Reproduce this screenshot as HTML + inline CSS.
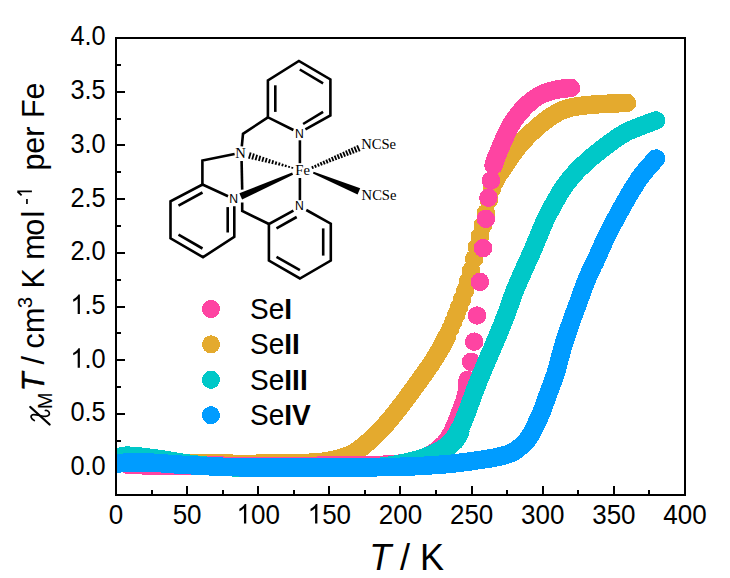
<!DOCTYPE html>
<html><head><meta charset="utf-8"><style>
html,body{margin:0;padding:0;background:#fff;width:730px;height:578px;overflow:hidden}
svg{display:block;font-family:"Liberation Sans",sans-serif}
</style></head><body><svg width="730" height="578" viewBox="0 0 730 578">
<line x1="116.0" y1="495" x2="116.0" y2="486" stroke="#000" stroke-width="2"/><line x1="152.0" y1="495" x2="152.0" y2="490" stroke="#000" stroke-width="2"/><line x1="187.0" y1="495" x2="187.0" y2="486" stroke="#000" stroke-width="2"/><line x1="223.0" y1="495" x2="223.0" y2="490" stroke="#000" stroke-width="2"/><line x1="258.0" y1="495" x2="258.0" y2="486" stroke="#000" stroke-width="2"/><line x1="294.0" y1="495" x2="294.0" y2="490" stroke="#000" stroke-width="2"/><line x1="329.0" y1="495" x2="329.0" y2="486" stroke="#000" stroke-width="2"/><line x1="365.0" y1="495" x2="365.0" y2="490" stroke="#000" stroke-width="2"/><line x1="400.0" y1="495" x2="400.0" y2="486" stroke="#000" stroke-width="2"/><line x1="436.0" y1="495" x2="436.0" y2="490" stroke="#000" stroke-width="2"/><line x1="472.0" y1="495" x2="472.0" y2="486" stroke="#000" stroke-width="2"/><line x1="507.0" y1="495" x2="507.0" y2="490" stroke="#000" stroke-width="2"/><line x1="543.0" y1="495" x2="543.0" y2="486" stroke="#000" stroke-width="2"/><line x1="578.0" y1="495" x2="578.0" y2="490" stroke="#000" stroke-width="2"/><line x1="614.0" y1="495" x2="614.0" y2="486" stroke="#000" stroke-width="2"/><line x1="649.0" y1="495" x2="649.0" y2="490" stroke="#000" stroke-width="2"/><line x1="685.0" y1="495" x2="685.0" y2="486" stroke="#000" stroke-width="2"/><line x1="116" y1="495.0" x2="121" y2="495.0" stroke="#000" stroke-width="2"/><line x1="116" y1="468.0" x2="125" y2="468.0" stroke="#000" stroke-width="2"/><line x1="116" y1="441.0" x2="121" y2="441.0" stroke="#000" stroke-width="2"/><line x1="116" y1="414.0" x2="125" y2="414.0" stroke="#000" stroke-width="2"/><line x1="116" y1="387.0" x2="121" y2="387.0" stroke="#000" stroke-width="2"/><line x1="116" y1="360.0" x2="125" y2="360.0" stroke="#000" stroke-width="2"/><line x1="116" y1="333.0" x2="121" y2="333.0" stroke="#000" stroke-width="2"/><line x1="116" y1="307.0" x2="125" y2="307.0" stroke="#000" stroke-width="2"/><line x1="116" y1="280.0" x2="121" y2="280.0" stroke="#000" stroke-width="2"/><line x1="116" y1="253.0" x2="125" y2="253.0" stroke="#000" stroke-width="2"/><line x1="116" y1="226.0" x2="121" y2="226.0" stroke="#000" stroke-width="2"/><line x1="116" y1="199.0" x2="125" y2="199.0" stroke="#000" stroke-width="2"/><line x1="116" y1="172.0" x2="121" y2="172.0" stroke="#000" stroke-width="2"/><line x1="116" y1="145.0" x2="125" y2="145.0" stroke="#000" stroke-width="2"/><line x1="116" y1="119.0" x2="121" y2="119.0" stroke="#000" stroke-width="2"/><line x1="116" y1="92.0" x2="125" y2="92.0" stroke="#000" stroke-width="2"/><line x1="116" y1="65.0" x2="121" y2="65.0" stroke="#000" stroke-width="2"/><line x1="116" y1="38.0" x2="125" y2="38.0" stroke="#000" stroke-width="2"/>
<defs><clipPath id="pc"><rect x="117" y="39" width="567" height="455"/></clipPath></defs>
<g shape-rendering="crispEdges" clip-path="url(#pc)"><polyline points="117.0,463.0 118.5,463.0 120.0,463.0 121.5,463.0 123.0,463.0 124.5,463.1 126.0,463.1 127.5,463.1 129.0,463.1 130.6,463.1 132.1,463.1 133.6,463.1 135.2,463.1 136.7,463.2 138.2,463.2 139.8,463.2 141.3,463.2 142.8,463.2 144.4,463.2 145.9,463.2 147.5,463.2 149.0,463.3 150.5,463.3 152.1,463.3 153.6,463.3 155.1,463.3 156.7,463.3 158.2,463.3 159.7,463.3 161.2,463.3 162.7,463.4 164.2,463.4 165.7,463.4 167.2,463.4 168.7,463.4 170.2,463.4 171.7,463.4 173.2,463.4 174.6,463.4 176.1,463.5 177.5,463.5 179.0,463.5 180.4,463.5 181.9,463.5 183.3,463.5 184.7,463.5 186.1,463.5 187.5,463.5 188.8,463.5 190.2,463.6 191.6,463.6 192.9,463.6 194.2,463.6 195.9,463.6 197.6,463.6 199.3,463.6 200.9,463.6 202.6,463.6 204.2,463.6 205.8,463.6 207.5,463.6 209.1,463.7 210.7,463.7 212.3,463.7 213.9,463.7 215.4,463.7 217.0,463.7 218.6,463.7 220.1,463.7 221.7,463.7 223.2,463.7 224.7,463.7 226.2,463.7 227.7,463.7 229.2,463.7 230.7,463.7 232.1,463.7 233.6,463.8 235.0,463.8 236.4,463.8 237.8,463.8 239.2,463.8 240.6,463.8 242.0,463.8 243.4,463.8 244.7,463.8 246.0,463.8 247.4,463.8 248.7,463.8 250.0,463.8 251.2,463.8 252.5,463.8 253.8,463.8 255.0,463.8 256.8,463.7 258.7,463.7 260.5,463.7 262.2,463.7 263.9,463.7 265.6,463.7 267.3,463.7 268.9,463.7 270.5,463.6 272.1,463.6 273.7,463.6 275.2,463.6 276.7,463.6 278.2,463.5 279.6,463.5 281.0,463.5 282.4,463.5 283.8,463.5 285.1,463.4 286.4,463.4 287.7,463.4 289.0,463.4 290.2,463.3 291.5,463.3 292.7,463.3 293.8,463.3 295.0,463.2 297.0,463.2 298.9,463.1 300.7,463.1 302.4,463.0 304.1,463.0 305.6,462.9 307.1,462.8 308.5,462.8 309.8,462.7 311.1,462.6 312.3,462.6 313.5,462.5 314.7,462.4 315.8,462.4 316.9,462.3 319.0,462.2 320.8,462.0 322.3,461.9 323.6,461.7 324.8,461.5 326.0,461.4 327.2,461.2 328.8,460.9 330.2,460.6 331.6,460.4 332.9,460.0 334.4,459.7 335.7,459.4 337.0,459.1 338.4,458.7 339.8,458.3 341.2,457.9 342.6,457.5 343.7,457.1 345.0,456.7 346.2,456.2 347.4,455.8 348.6,455.3 349.8,454.8 351.0,454.2 352.1,453.6 353.3,453.0 354.4,452.4 355.5,451.7 356.6,451.0 357.7,450.3 358.8,449.6 359.8,448.8 360.9,447.9 362.0,447.1 363.1,446.2 364.2,445.3 365.3,444.4 366.4,443.5 367.5,442.5 368.6,441.5 369.7,440.5 370.8,439.5 371.9,438.5 373.0,437.5 374.0,436.6 375.0,435.6 376.0,434.7 376.9,433.8 377.8,432.9 378.7,432.0 379.7,431.0 380.6,430.0 381.5,429.1 382.3,428.2 383.1,427.3 384.0,426.4 384.8,425.5 385.8,424.4 386.7,423.3 387.8,422.1 388.6,421.2 389.4,420.2 390.3,419.1 391.2,418.0 392.1,416.9 393.1,415.7 394.0,414.5 395.0,413.4 395.9,412.2 396.8,411.0 397.8,409.9 398.6,408.7 399.5,407.6 400.4,406.4 401.3,405.2 402.2,404.0 403.1,402.9 404.0,401.7 404.8,400.6 405.7,399.4 406.5,398.4 407.2,397.3 408.2,396.1 409.0,394.9 409.8,393.8 410.6,392.7 411.3,391.7 412.1,390.6 412.9,389.5 413.7,388.4 414.6,387.2 415.4,386.1 416.2,385.0 417.0,383.8 417.9,382.7 418.7,381.5 419.6,380.3 420.5,379.1 421.3,377.9 422.2,376.6 423.2,375.4 423.9,374.3 424.7,373.2 425.5,372.0 426.3,370.9 427.1,369.7 428.0,368.6 428.8,367.4 429.6,366.2 430.4,365.0 431.2,363.8 431.9,362.7 432.7,361.5 433.5,360.3 434.3,359.0 435.1,357.8 435.9,356.5 436.6,355.3 437.4,354.0 438.1,352.8 438.8,351.6 439.5,350.4 440.2,349.2 440.9,348.0 441.6,346.7 442.3,345.4 443.0,344.1 443.6,342.9 444.3,341.6 444.9,340.4 445.5,339.2 446.1,338.0 446.7,336.8 447.2,335.7" fill="none" stroke="#E4AA2E" stroke-width="18.5" stroke-linecap="round" stroke-linejoin="round"/><circle cx="450.4" cy="328.6" r="9.25" fill="#E4AA2E"/><circle cx="453.4" cy="321.6" r="9.25" fill="#E4AA2E"/><circle cx="456.3" cy="314.5" r="9.25" fill="#E4AA2E"/><circle cx="459.3" cy="306.9" r="9.25" fill="#E4AA2E"/><circle cx="462.2" cy="299.1" r="9.25" fill="#E4AA2E"/><circle cx="465.2" cy="290.5" r="9.25" fill="#E4AA2E"/><circle cx="468.2" cy="281.0" r="9.25" fill="#E4AA2E"/><circle cx="471.1" cy="270.7" r="9.25" fill="#E4AA2E"/><circle cx="474.1" cy="258.8" r="9.25" fill="#E4AA2E"/><circle cx="477.0" cy="247.2" r="9.25" fill="#E4AA2E"/><circle cx="480.0" cy="236.1" r="9.25" fill="#E4AA2E"/><circle cx="483.0" cy="225.1" r="9.25" fill="#E4AA2E"/><circle cx="485.9" cy="213.0" r="9.25" fill="#E4AA2E"/><circle cx="488.9" cy="199.8" r="9.25" fill="#E4AA2E"/><circle cx="491.8" cy="189.1" r="9.25" fill="#E4AA2E"/><circle cx="494.8" cy="182.2" r="9.25" fill="#E4AA2E"/><circle cx="497.8" cy="176.7" r="9.25" fill="#E4AA2E"/><polyline points="501.1,171.2 501.8,170.0 502.6,168.8 503.3,167.7 504.0,166.6 504.8,165.5 505.5,164.4 506.3,163.3 507.0,162.1 507.8,161.0 508.6,159.9 509.4,158.7 510.2,157.6 511.0,156.4 511.8,155.3 512.6,154.2 513.4,153.0 514.3,151.9 515.1,150.8 516.0,149.6 516.8,148.5 517.7,147.4 518.6,146.3 519.5,145.3 520.4,144.2 521.3,143.1 522.2,142.0 523.2,140.9 524.2,139.8 525.2,138.8 526.2,137.7 527.3,136.6 528.3,135.5 529.4,134.4 530.5,133.4 531.5,132.4 532.5,131.5 533.6,130.5 534.6,129.5 535.7,128.6 536.8,127.6 537.8,126.7 538.9,125.7 540.0,124.8 541.1,123.9 542.2,123.0 543.3,122.1 544.5,121.3 545.6,120.4 546.7,119.6 547.9,118.7 548.9,118.0 550.0,117.2 551.3,116.3 552.6,115.5 553.9,114.7 555.2,113.9 556.4,113.2 557.6,112.5 558.8,111.9 560.1,111.2 561.3,110.7 562.5,110.2 563.7,109.7 564.9,109.3 566.2,108.9 567.6,108.5 568.9,108.1 570.3,107.7 571.7,107.4 573.3,107.1 575.0,106.8 576.2,106.6 577.5,106.3 578.8,106.1 580.2,105.9 581.7,105.7 583.2,105.5 584.8,105.4 586.4,105.2 588.1,105.0 589.4,104.9 590.7,104.8 592.0,104.7 593.4,104.6 594.8,104.5 596.3,104.4 597.7,104.3 599.2,104.2 600.7,104.1 602.2,104.0 603.7,103.9 605.2,103.8 606.8,103.8 608.1,103.7 609.6,103.6 611.0,103.6 612.4,103.5 613.9,103.4 615.3,103.4 616.8,103.3 618.2,103.3 619.7,103.2 621.2,103.2 622.6,103.2 624.1,103.1 625.5,103.1 627.0,103.0" fill="none" stroke="#E4AA2E" stroke-width="18.5" stroke-linecap="round" stroke-linejoin="round"/><polyline points="128.5,465.0 129.9,465.0 131.3,465.1 132.7,465.1 134.1,465.1 135.4,465.1 136.8,465.2 138.2,465.2 139.7,465.2 141.3,465.2 142.9,465.3 144.6,465.3 145.9,465.3 147.2,465.3 148.5,465.3 149.8,465.3 151.2,465.3 152.5,465.3 154.0,465.3 155.4,465.3 156.9,465.4 158.4,465.4 159.9,465.4 161.5,465.4 163.1,465.4 164.7,465.4 166.3,465.4 168.0,465.4 169.3,465.4 170.6,465.4 171.9,465.4 173.2,465.4 174.5,465.4 175.8,465.4 177.1,465.4 178.5,465.4 179.8,465.5 181.2,465.5 182.6,465.5 184.1,465.5 185.5,465.5 187.0,465.5 188.6,465.5 190.1,465.5 191.7,465.5 193.3,465.5 195.0,465.5 196.7,465.5 198.5,465.5 199.8,465.6 201.0,465.6 202.3,465.6 203.7,465.6 205.0,465.6 206.4,465.6 207.8,465.6 209.2,465.6 210.6,465.6 212.0,465.7 213.5,465.7 214.9,465.7 216.4,465.7 217.9,465.7 219.4,465.7 220.9,465.7 222.5,465.7 224.0,465.8 225.5,465.8 227.1,465.8 228.7,465.8 230.2,465.8 231.8,465.8 233.4,465.8 235.0,465.8 236.6,465.8 238.2,465.9 239.8,465.9 241.4,465.9 243.0,465.9 244.4,465.9 245.8,465.9 247.2,465.9 248.6,465.9 250.1,465.9 251.6,465.9 253.0,465.9 254.5,465.9 256.0,465.9 257.5,465.9 259.0,465.9 260.5,465.9 262.1,465.9 263.6,465.9 265.1,465.9 266.7,465.9 268.2,465.9 269.7,465.9 271.3,465.9 272.8,465.9 274.3,465.9 275.9,465.9 277.4,465.9 278.9,465.9 280.4,465.9 281.9,465.9 283.4,465.9 284.9,465.9 286.4,465.9 287.9,465.9 289.3,465.9 290.8,465.9 292.2,465.9 293.6,465.9 295.0,465.9 296.6,465.9 298.1,465.9 299.7,465.9 301.2,465.9 302.8,465.8 304.3,465.8 305.8,465.8 307.3,465.8 308.8,465.8 310.3,465.8 311.8,465.8 313.3,465.8 314.8,465.8 316.3,465.8 317.8,465.7 319.2,465.7 320.7,465.7 322.1,465.7 323.5,465.7 325.0,465.7 326.4,465.7 327.8,465.7 329.2,465.7 330.6,465.6 331.9,465.6 333.3,465.6 334.7,465.6 336.0,465.6 337.4,465.6 338.7,465.6 340.0,465.5 341.6,465.5 343.2,465.5 344.8,465.5 346.4,465.5 348.0,465.5 349.5,465.5 351.1,465.5 352.6,465.4 354.1,465.4 355.6,465.4 357.1,465.4 358.6,465.4 360.0,465.4 361.5,465.4 362.9,465.3 364.3,465.3 365.7,465.3 367.1,465.3 368.4,465.3 369.8,465.2 371.1,465.2 372.4,465.2 373.7,465.1 375.0,465.1 376.2,465.0 378.0,465.0 379.7,464.9 381.3,464.9 383.0,464.8 384.6,464.7 386.1,464.6 387.7,464.5 389.2,464.5 390.7,464.4 392.1,464.3 393.5,464.2 394.9,464.1 396.2,464.0 397.6,463.9 398.8,463.7 400.1,463.6 401.3,463.5 402.5,463.4 404.3,463.1 406.1,462.9 407.7,462.6 409.3,462.3 410.7,462.0 412.1,461.7 413.4,461.4 414.7,461.1 415.9,460.8 417.1,460.4 418.2,460.1 420.0,459.6 421.5,459.1 422.9,458.6 424.2,458.1 425.4,457.5 426.5,457.0 427.7,456.4 429.0,455.8 430.2,455.1 431.3,454.4 432.4,453.7 433.4,453.1 434.4,452.4 435.6,451.5 436.7,450.6 437.7,449.7 438.8,448.8 439.9,447.9 440.9,447.0 441.9,446.1 442.9,445.2 444.0,444.2 445.0,443.0 445.8,442.0 446.6,440.9 447.5,439.8 448.3,438.6 449.2,437.4 450.0,436.0 450.8,434.6 451.4,433.5 452.0,432.3 452.7,431.0 453.3,429.7 453.9,428.4 454.5,427.1 455.0,425.8 455.6,424.5 456.1,423.2 456.7,421.9 457.2,420.6 457.7,419.2 458.2,417.9 458.7,416.7 459.1,415.4 459.5,414.2 460.0,413.0 460.5,411.6 461.1,410.2 461.6,408.9 462.1,407.6 462.6,406.3 463.1,404.9 463.6,403.6 464.0,402.3 464.5,401.1 464.9,399.8 465.3,398.4 465.7,397.1 466.0,395.7 466.3,394.3 466.6,392.8 466.8,391.4 467.0,389.9 467.1,388.5 467.3,387.1 467.3,385.7 467.4,384.2 467.4,382.8 467.5,381.4 467.5,380.0" fill="none" stroke="#FE44A2" stroke-width="18.5" stroke-linecap="round" stroke-linejoin="round"/><circle cx="467.5" cy="380.0" r="9.25" fill="#FE44A2"/><circle cx="471.1" cy="361.8" r="9.25" fill="#FE44A2"/><circle cx="474.2" cy="341.7" r="9.25" fill="#FE44A2"/><circle cx="477.1" cy="315.5" r="9.25" fill="#FE44A2"/><circle cx="479.9" cy="281.9" r="9.25" fill="#FE44A2"/><circle cx="483.0" cy="248.1" r="9.25" fill="#FE44A2"/><circle cx="485.8" cy="218.8" r="9.25" fill="#FE44A2"/><circle cx="488.4" cy="197.7" r="9.25" fill="#FE44A2"/><circle cx="491.1" cy="180.5" r="9.25" fill="#FE44A2"/><polyline points="493.6,165.5 493.9,164.3 494.2,163.2 494.6,162.0 495.1,160.6 495.5,159.5 495.9,158.4 496.4,157.1 496.9,155.8 497.5,154.4 498.1,153.0 498.6,151.8 499.1,150.6 499.6,149.4 500.2,148.1 500.7,146.7 501.3,145.4 501.9,144.0 502.5,142.7 503.0,141.5 503.5,140.3 504.0,139.0 504.6,137.7 505.2,136.5 505.7,135.2 506.3,134.0 506.9,132.8 507.4,131.6 508.1,130.3 508.7,129.0 509.4,127.8 510.0,126.6 510.7,125.4 511.4,124.2 512.1,123.0 512.8,121.9 513.5,120.7 514.3,119.6 515.1,118.5 515.9,117.4 516.7,116.4 517.5,115.3 518.3,114.3 519.1,113.2 520.0,112.2 520.9,111.2 521.8,110.2 522.8,109.2 523.7,108.2 524.6,107.2 525.6,106.3 526.5,105.4 527.5,104.4 528.6,103.4 529.6,102.5 530.7,101.6 531.7,100.8 532.8,99.9 533.8,99.2 535.0,98.3 536.1,97.6 537.2,96.9 538.3,96.2 539.4,95.6 540.6,95.0 541.9,94.4 543.2,93.8 544.6,93.2 546.0,92.7 547.5,92.2 549.0,91.7 550.2,91.3 551.5,91.0 552.8,90.6 554.2,90.3 555.6,89.9 557.0,89.6 558.4,89.4 559.8,89.1 561.1,88.9 562.5,88.7 563.9,88.6 565.3,88.5 566.8,88.4 568.2,88.2 569.6,88.1 571.0,88.0" fill="none" stroke="#FE44A2" stroke-width="18.5" stroke-linecap="round" stroke-linejoin="round"/><polyline points="118.5,457.5 119.4,457.1 120.3,456.8 121.4,456.4 122.4,456.2 123.6,456.0 124.9,455.8 126.4,455.7 127.6,455.7 129.0,455.7 130.4,455.8 132.0,455.8 133.5,455.9 134.8,456.0 136.2,456.2 137.6,456.3 139.0,456.5 140.5,456.7 142.0,456.8 143.3,457.0 144.6,457.1 146.0,457.3 147.4,457.4 148.7,457.6 150.1,457.8 151.5,457.9 152.9,458.1 154.3,458.3 155.7,458.5 157.1,458.7 158.5,458.9 159.9,459.1 161.2,459.2 162.6,459.5 163.9,459.7 165.2,459.9 166.5,460.1 167.8,460.3 169.1,460.5 170.5,460.8 171.9,461.0 173.2,461.2 174.5,461.4 175.9,461.7 177.3,461.9 178.8,462.2 180.5,462.4 181.7,462.6 183.0,462.8 184.3,463.0 185.6,463.2 187.0,463.4 188.4,463.6 189.9,463.8 191.4,464.0 193.0,464.2 194.8,464.4 196.0,464.6 197.3,464.7 198.5,464.9 199.8,465.0 201.2,465.2 202.5,465.4 203.9,465.5 205.4,465.7 206.9,465.8 208.5,466.0 210.1,466.1 211.8,466.2 213.6,466.4 215.5,466.5 216.7,466.5 217.9,466.6 219.1,466.7 220.3,466.8 221.6,466.8 222.8,466.9 224.1,466.9 225.4,467.0 226.8,467.1 228.1,467.1 229.5,467.2 230.9,467.2 232.4,467.3 233.9,467.4 235.4,467.4 236.9,467.5 238.5,467.5 240.1,467.5 241.7,467.6 243.4,467.6 245.2,467.7 246.9,467.7 248.8,467.8 250.0,467.8 251.2,467.8 252.5,467.8 253.8,467.8 255.1,467.9 256.5,467.9 257.9,467.9 259.3,467.9 260.7,467.9 262.1,467.9 263.6,467.9 265.0,468.0 266.5,468.0 268.0,468.0 269.5,468.0 271.0,468.0 272.6,468.0 274.1,468.0 275.6,468.0 277.2,468.0 278.7,468.0 280.3,468.1 281.8,468.1 283.4,468.1 284.9,468.1 286.5,468.1 288.0,468.1 289.5,468.1 291.1,468.1 292.6,468.1 294.1,468.1 295.6,468.1 297.1,468.1 298.5,468.1 300.0,468.1 301.5,468.1 303.0,468.1 304.5,468.1 306.1,468.1 307.6,468.1 309.2,468.1 310.7,468.1 312.3,468.1 313.9,468.1 315.4,468.1 317.0,468.1 318.6,468.1 320.1,468.1 321.7,468.1 323.3,468.1 324.8,468.1 326.4,468.1 327.9,468.1 329.4,468.0 331.0,468.0 332.5,468.0 333.9,468.0 335.4,468.0 336.9,468.0 338.3,468.0 339.7,468.0 341.1,468.0 342.4,467.9 343.8,467.9 345.1,467.9 346.4,467.9 347.6,467.9 348.8,467.9 350.0,467.9 351.9,467.8 353.8,467.8 355.6,467.7 357.4,467.7 359.0,467.7 360.6,467.6 362.2,467.6 363.7,467.6 365.2,467.5 366.6,467.5 368.0,467.4 369.3,467.4 370.6,467.3 371.9,467.2 373.2,467.2 374.4,467.1 375.6,467.0 376.9,467.0 378.1,466.9 379.2,466.8 381.0,466.7 382.7,466.5 384.2,466.4 385.7,466.2 387.1,466.0 388.5,465.8 389.8,465.6 391.1,465.4 392.4,465.2 393.7,465.0 395.0,464.8 396.3,464.5 397.8,464.3 399.2,464.0 400.6,463.7 402.1,463.4 403.6,463.1 405.0,462.8 406.5,462.5 408.0,462.1 409.4,461.8 410.9,461.4 412.3,461.1 413.7,460.7 415.1,460.3 416.5,459.9 418.0,459.5 419.5,459.0 420.9,458.5 422.4,458.1 423.8,457.6 425.3,457.1 426.7,456.6 428.1,456.0 429.4,455.5 430.7,455.0 432.0,454.5 433.2,453.9 434.7,453.2 436.2,452.5 437.6,451.7 438.9,451.0 440.2,450.2 441.5,449.4 442.6,448.7 443.8,447.9 444.8,447.2 446.1,446.2 447.3,445.3 448.3,444.4 449.3,443.4 450.2,442.5 451.1,441.6 451.9,440.8 453.0,439.6 453.8,438.4 454.6,437.3 455.3,436.2 456.0,435.1 456.8,433.8 457.6,432.6 458.3,431.3 459.0,430.0 459.6,429.0 460.1,427.9 460.7,426.9 461.3,425.7 461.9,424.5 462.4,423.4 462.9,422.2 463.4,421.0 463.9,419.8 464.5,418.4 465.0,417.0 465.5,415.9 465.9,414.7 466.4,413.4 466.9,412.2 467.4,410.8 467.9,409.5 468.4,408.1 468.9,406.8 469.4,405.5 469.8,404.2 470.3,402.9 470.8,401.6 471.3,400.2 471.8,398.9 472.3,397.5 472.8,396.1 473.3,394.8 473.8,393.4 474.3,392.0 474.8,390.6 475.4,389.2 475.9,387.8 476.4,386.4 477.0,385.0 477.5,383.6 478.0,382.2 478.6,380.9 479.1,379.6 479.6,378.3 480.2,377.0 480.7,375.7 481.2,374.4 481.8,373.1 482.3,371.8 482.9,370.5 483.4,369.2 483.9,368.0 484.4,366.8 485.0,365.5 485.5,364.3 486.0,363.1 486.6,361.8 487.1,360.5 487.7,359.1 488.3,357.9 488.8,356.6 489.4,355.3 489.9,354.0 490.5,352.7 491.1,351.3 491.7,349.9 492.3,348.5 492.9,347.0 493.5,345.6 494.0,344.4 494.5,343.1 495.1,341.9 495.6,340.6 496.2,339.3 496.7,338.0 497.3,336.7 497.9,335.3 498.4,334.0 499.0,332.6 499.5,331.3 500.0,330.0 500.6,328.7 501.1,327.3 501.7,325.9 502.3,324.5 502.8,323.1 503.4,321.6 504.0,320.2 504.5,318.8 505.1,317.5 505.6,316.1 506.1,314.8 506.6,313.5 507.0,312.3 507.6,310.7 508.1,309.2 508.6,307.8 509.1,306.4 509.6,305.1 510.0,303.8 510.5,302.5 510.9,301.2 511.3,300.0 511.8,298.6 512.3,297.3 512.7,296.1 513.2,294.9 513.6,293.7 514.1,292.5 514.6,291.3 515.0,290.0 515.6,288.7 516.1,287.4 516.6,286.1 517.2,284.8 517.8,283.5 518.3,282.2 518.9,280.9 519.5,279.5 520.1,278.3 520.6,277.1 521.1,275.8 521.7,274.6 522.3,273.3 522.8,272.1 523.4,270.8 524.0,269.5 524.6,268.1 525.1,266.9 525.7,265.7 526.3,264.4 526.9,263.1 527.4,261.8 528.0,260.5 528.6,259.2 529.2,257.9 529.8,256.6 530.4,255.2 531.0,253.9 531.6,252.5 532.2,251.2 532.8,249.8 533.4,248.4 534.0,247.0 534.6,245.6 535.1,244.2 535.7,242.9 536.2,241.6 536.8,240.2 537.4,238.9 537.9,237.5 538.5,236.2 539.0,234.9 539.5,233.7 540.0,232.4 540.5,231.2 541.0,230.0 541.6,228.7 542.1,227.4 542.6,226.1 543.2,224.9 543.7,223.7 544.2,222.5 544.8,221.2 545.4,220.0 545.9,218.8 546.6,217.5 547.2,216.3 547.8,215.0 548.5,213.8 549.1,212.5 549.8,211.3 550.5,210.0 551.1,208.9 551.7,207.7 552.3,206.6 552.9,205.4 553.5,204.3 554.2,203.1 554.8,201.9 555.5,200.6 556.3,199.4 557.0,198.2 557.6,197.0 558.3,195.8 559.0,194.6 559.8,193.3 560.5,192.1 561.3,190.8 562.2,189.5 563.1,188.1 564.0,186.8 564.8,185.7 565.6,184.6 566.4,183.5 567.3,182.3 568.2,181.2 569.1,180.0 570.0,178.8 571.0,177.7 572.0,176.5 573.0,175.3 574.0,174.1 575.1,173.0 576.1,171.8 577.1,170.8 578.1,169.8 579.1,168.8 580.1,167.8 581.2,166.8 582.2,165.7 583.3,164.7 584.4,163.7 585.5,162.7 586.6,161.7 587.7,160.7 588.8,159.7 589.9,158.8 590.9,157.9 592.0,156.9 593.1,156.0 594.3,155.0 595.4,154.1 596.6,153.2 597.7,152.3 598.9,151.4 600.0,150.5 601.1,149.6 602.2,148.8 603.3,147.9 604.4,147.1 605.5,146.3 606.5,145.6 607.5,144.8 608.8,143.8 610.2,142.8 611.4,141.9 612.7,141.0 613.9,140.1 615.0,139.3 616.2,138.5 617.3,137.7 618.4,137.0 619.4,136.2 620.7,135.4 621.9,134.7 623.1,134.0 624.3,133.3 625.4,132.7 626.5,132.1 627.6,131.6 628.7,131.0 629.9,130.4 631.2,129.9 632.4,129.4 633.6,128.9 634.8,128.4 636.1,127.9 637.3,127.5 638.6,127.0 639.9,126.5 641.1,126.0 642.4,125.5 643.7,125.0 645.0,124.5 646.3,124.0 647.7,123.5 649.0,123.0 650.4,122.5 651.8,122.0 653.2,121.5 654.6,121.0 656.0,120.5" fill="none" stroke="#00C8C8" stroke-width="18.5" stroke-linecap="round" stroke-linejoin="round"/><polyline points="438.5,454.6 448.2,447.3 455.4,440.6 458.9,435.0 460.3,431.5" fill="none" stroke="#00C8C8" stroke-width="18.5" stroke-linecap="round" stroke-linejoin="round"/><polyline points="118.5,463.6 119.4,463.4 120.3,463.2 121.6,463.0 122.7,462.9 123.8,462.7 125.1,462.6 126.6,462.5 128.2,462.4 129.4,462.4 130.6,462.4 131.9,462.3 133.3,462.3 134.7,462.3 136.2,462.3 137.6,462.3 139.0,462.3 140.4,462.3 141.8,462.3 143.3,462.4 144.8,462.4 146.2,462.4 147.7,462.5 149.1,462.5 150.5,462.6 151.9,462.7 153.2,462.7 154.6,462.8 155.9,462.9 157.2,463.0 158.5,463.1 159.7,463.1 161.0,463.2 162.4,463.3 163.8,463.4 165.1,463.5 166.4,463.7 167.8,463.8 169.1,463.9 170.5,464.0 171.9,464.1 173.2,464.2 174.5,464.3 175.9,464.4 177.3,464.5 178.8,464.6 180.5,464.7 181.7,464.8 183.0,464.9 184.3,464.9 185.6,465.0 187.0,465.1 188.4,465.2 189.9,465.2 191.4,465.3 193.0,465.4 194.8,465.5 196.0,465.6 197.3,465.6 198.5,465.7 199.8,465.8 201.2,465.9 202.5,465.9 203.9,466.0 205.4,466.1 206.9,466.2 208.5,466.2 210.1,466.3 211.8,466.4 213.6,466.5 215.5,466.5 216.7,466.6 217.9,466.6 219.1,466.7 220.3,466.7 221.6,466.7 222.8,466.8 224.1,466.8 225.4,466.9 226.8,466.9 228.1,466.9 229.5,467.0 230.9,467.0 232.4,467.1 233.9,467.1 235.4,467.1 236.9,467.2 238.5,467.2 240.1,467.3 241.7,467.3 243.4,467.3 245.2,467.3 246.9,467.4 248.8,467.4 250.0,467.4 251.2,467.4 252.5,467.4 253.8,467.5 255.1,467.5 256.4,467.5 257.7,467.5 259.1,467.5 260.5,467.5 261.9,467.5 263.3,467.6 264.7,467.6 266.2,467.6 267.6,467.6 269.1,467.6 270.6,467.6 272.1,467.6 273.6,467.6 275.1,467.6 276.6,467.6 278.1,467.6 279.7,467.7 281.2,467.7 282.8,467.7 284.3,467.7 285.9,467.7 287.4,467.7 289.0,467.7 290.6,467.7 292.2,467.7 293.7,467.7 295.3,467.7 296.9,467.7 298.4,467.7 300.0,467.7 301.4,467.7 302.8,467.7 304.3,467.7 305.7,467.7 307.2,467.7 308.7,467.7 310.1,467.7 311.6,467.7 313.1,467.7 314.6,467.7 316.1,467.7 317.7,467.7 319.2,467.7 320.7,467.7 322.2,467.7 323.8,467.7 325.3,467.7 326.9,467.7 328.4,467.7 329.9,467.7 331.5,467.7 333.0,467.7 334.6,467.7 336.1,467.7 337.6,467.7 339.1,467.6 340.7,467.6 342.2,467.6 343.7,467.6 345.2,467.6 346.7,467.6 348.2,467.6 349.6,467.6 351.1,467.6 352.6,467.6 354.0,467.5 355.4,467.5 356.8,467.5 358.2,467.5 359.8,467.5 361.4,467.5 363.0,467.4 364.6,467.4 366.2,467.4 367.8,467.4 369.4,467.4 371.0,467.3 372.5,467.3 374.1,467.3 375.7,467.3 377.2,467.2 378.8,467.2 380.3,467.2 381.8,467.2 383.3,467.1 384.9,467.1 386.4,467.1 387.9,467.1 389.3,467.0 390.8,467.0 392.3,467.0 393.7,466.9 395.2,466.9 396.6,466.9 398.0,466.8 399.4,466.8 400.8,466.7 402.1,466.7 403.5,466.7 404.8,466.6 406.2,466.6 407.5,466.5 408.8,466.5 410.5,466.4 412.2,466.3 413.9,466.3 415.5,466.2 417.2,466.1 418.8,466.0 420.4,466.0 422.0,465.9 423.5,465.8 425.1,465.7 426.6,465.6 428.0,465.5 429.5,465.4 430.9,465.3 432.4,465.2 433.8,465.1 435.1,465.0 436.5,464.9 437.8,464.8 439.1,464.8 440.4,464.7 441.6,464.6 442.9,464.5 444.1,464.4 445.2,464.3 447.2,464.1 449.0,464.0 450.7,463.8 452.4,463.6 454.0,463.4 455.5,463.3 457.0,463.1 458.4,462.9 459.8,462.7 461.1,462.6 462.4,462.4 463.7,462.2 464.9,462.1 466.1,461.9 467.2,461.8 469.1,461.5 470.7,461.3 472.3,461.1 473.7,460.9 475.0,460.7 476.2,460.5 477.5,460.3 478.7,460.2 479.9,460.0 481.4,459.8 482.9,459.5 484.3,459.3 485.6,459.1 486.9,458.9 488.2,458.7 489.6,458.5 491.0,458.3 492.4,458.0 493.8,457.7 495.2,457.5 496.5,457.2 497.9,456.9 499.2,456.6 500.7,456.2 502.2,455.8 503.7,455.5 505.1,455.1 506.4,454.7 507.7,454.2 509.1,453.7 510.4,453.2 511.7,452.7 512.8,452.1 514.0,451.5 515.0,450.8 516.0,450.1 517.0,449.4 517.9,448.7 518.9,447.9 520.0,447.0 521.2,446.0 522.3,445.0 523.4,444.0 524.4,443.0 525.4,441.9 526.4,440.8 527.4,439.6 528.1,438.6 528.8,437.6 529.5,436.6 530.2,435.5 530.9,434.4 531.5,433.2 532.2,432.1 532.8,430.9 533.4,429.7 534.0,428.5 534.6,427.3 535.2,426.0 535.8,424.7 536.4,423.4 537.0,422.1 537.6,420.8 538.2,419.6 538.8,418.3 539.4,417.0 540.0,415.6 540.6,414.3 541.1,413.0 541.7,411.7 542.3,410.3 542.9,408.8 543.3,407.6 543.7,406.4 544.2,405.2 544.6,403.9 545.0,402.6 545.5,401.3 546.0,400.0 546.4,398.8 546.8,397.6 547.3,396.3 547.7,395.1 548.2,393.8 548.7,392.5 549.1,391.3 549.6,390.0 550.1,388.8 550.6,387.5 551.0,386.3 551.5,385.1 552.0,383.8 552.5,382.6 553.0,381.3 553.4,380.0 553.9,378.7 554.3,377.4 554.7,376.1 555.2,374.8 555.6,373.4 556.0,372.1 556.5,370.6 556.9,369.1 557.2,367.9 557.6,366.6 557.9,365.3 558.3,364.0 558.6,362.7 559.0,361.3 559.3,359.9 559.7,358.5 560.1,357.0 560.5,355.6 560.8,354.3 561.2,353.0 561.6,351.7 561.9,350.3 562.3,349.0 562.7,347.6 563.1,346.2 563.5,344.8 563.9,343.4 564.4,342.0 564.8,340.6 565.2,339.2 565.7,337.9 566.1,336.6 566.5,335.3 567.0,333.9 567.4,332.6 567.9,331.3 568.4,329.9 568.8,328.6 569.3,327.3 569.8,325.9 570.3,324.6 570.7,323.2 571.2,321.9 571.7,320.6 572.2,319.2 572.6,317.9 573.1,316.6 573.6,315.2 574.1,313.9 574.6,312.6 575.1,311.3 575.6,309.9 576.0,308.6 576.5,307.3 577.0,305.9 577.5,304.6 578.0,303.3 578.5,301.9 578.9,300.6 579.4,299.2 579.9,297.9 580.4,296.5 580.9,295.1 581.3,293.8 581.8,292.5 582.3,291.1 582.8,289.8 583.3,288.6 583.8,287.3 584.3,285.8 584.9,284.4 585.5,282.9 586.0,281.5 586.6,280.0 587.2,278.6 587.8,277.3 588.3,275.9 588.9,274.6 589.5,273.3 590.0,272.1 590.7,270.7 591.3,269.3 592.0,268.0 592.6,266.7 593.2,265.4 593.8,264.2 594.5,263.0 595.1,261.8 595.6,260.6 596.2,259.3 596.8,258.1 597.3,256.9 597.9,255.7 598.4,254.5 598.9,253.3 599.5,252.0 600.0,250.8 600.6,249.5 601.2,248.2 601.8,246.9 602.4,245.5 603.0,244.1 603.6,242.7 604.2,241.3 604.8,240.0 605.5,238.6 606.1,237.2 606.7,236.0 607.3,234.7 608.0,233.5 608.6,232.3 609.2,231.0 609.8,229.8 610.5,228.6 611.1,227.3 611.8,226.1 612.4,224.9 613.1,223.6 613.7,222.4 614.4,221.2 615.0,219.9 615.7,218.7 616.4,217.4 617.0,216.2 617.7,215.0 618.4,213.8 619.0,212.6 619.7,211.3 620.4,210.1 621.0,208.9 621.7,207.7 622.4,206.5 623.0,205.3 623.7,204.1 624.4,202.9 625.0,201.8 625.7,200.7 626.4,199.4 627.1,198.2 627.8,197.0 628.5,195.8 629.2,194.6 629.8,193.5 630.5,192.3 631.2,191.1 631.9,190.0 632.7,188.7 633.5,187.4 634.3,186.2 635.1,184.9 635.9,183.6 636.7,182.4 637.5,181.2 638.3,180.0 639.1,178.8 640.0,177.6 640.8,176.5 641.7,175.3 642.5,174.2 643.3,173.1 644.2,172.1 645.0,171.1 645.9,170.0 646.8,168.9 647.7,167.9 648.6,167.0 649.4,166.0 650.2,165.1 651.0,164.2 651.9,163.2 652.8,162.2 653.6,161.3 654.4,160.4 655.2,159.4 656.0,158.5" fill="none" stroke="#009CFF" stroke-width="18.5" stroke-linecap="round" stroke-linejoin="round"/></g>
<rect x="116" y="38" width="569" height="457" fill="none" stroke="#000" stroke-width="2"/>
<g font-family="Liberation Sans" font-size="26" fill="#000"><g transform="translate(116.00,523.50) scale(1,1.045)"><text x="-7.23" y="0">0</text></g><g transform="translate(187.12,523.50) scale(1,1.045)"><text x="-14.46" y="0">5</text><text x="0.00" y="0">0</text></g><g transform="translate(258.25,523.50) scale(1,1.045)"><path d="M763 0L583 0L583 1147Q518 1085 412 1023Q306 961 222 930L222 1104Q373 1175 486 1276Q599 1377 646 1466L763 1466Z" transform="translate(-21.69,0) scale(0.01270,-0.01270)"/><text x="-7.23" y="0">0</text><text x="7.23" y="0">0</text></g><g transform="translate(329.38,523.50) scale(1,1.045)"><path d="M763 0L583 0L583 1147Q518 1085 412 1023Q306 961 222 930L222 1104Q373 1175 486 1276Q599 1377 646 1466L763 1466Z" transform="translate(-21.69,0) scale(0.01270,-0.01270)"/><text x="-7.23" y="0">5</text><text x="7.23" y="0">0</text></g><g transform="translate(400.50,523.50) scale(1,1.045)"><text x="-21.69" y="0">2</text><text x="-7.23" y="0">0</text><text x="7.23" y="0">0</text></g><g transform="translate(471.62,523.50) scale(1,1.045)"><text x="-21.69" y="0">2</text><text x="-7.23" y="0">5</text><text x="7.23" y="0">0</text></g><g transform="translate(542.75,523.50) scale(1,1.045)"><text x="-21.69" y="0">3</text><text x="-7.23" y="0">0</text><text x="7.23" y="0">0</text></g><g transform="translate(613.88,523.50) scale(1,1.045)"><text x="-21.69" y="0">3</text><text x="-7.23" y="0">5</text><text x="7.23" y="0">0</text></g><g transform="translate(685.00,523.50) scale(1,1.045)"><text x="-21.69" y="0">4</text><text x="-7.23" y="0">0</text><text x="7.23" y="0">0</text></g><g transform="translate(105.70,475.12) scale(0.975,1.045)"><text x="-36.15" y="0">0</text><text x="-21.69" y="0">.</text><text x="-14.46" y="0">0</text></g><g transform="translate(105.70,421.40) scale(0.975,1.045)"><text x="-36.15" y="0">0</text><text x="-21.69" y="0">.</text><text x="-14.46" y="0">5</text></g><g transform="translate(105.70,367.69) scale(0.975,1.045)"><path d="M763 0L583 0L583 1147Q518 1085 412 1023Q306 961 222 930L222 1104Q373 1175 486 1276Q599 1377 646 1466L763 1466Z" transform="translate(-36.15,0) scale(0.01270,-0.01270)"/><text x="-21.69" y="0">.</text><text x="-14.46" y="0">0</text></g><g transform="translate(105.70,313.98) scale(0.975,1.045)"><path d="M763 0L583 0L583 1147Q518 1085 412 1023Q306 961 222 930L222 1104Q373 1175 486 1276Q599 1377 646 1466L763 1466Z" transform="translate(-36.15,0) scale(0.01270,-0.01270)"/><text x="-21.69" y="0">.</text><text x="-14.46" y="0">5</text></g><g transform="translate(105.70,260.26) scale(0.975,1.045)"><text x="-36.15" y="0">2</text><text x="-21.69" y="0">.</text><text x="-14.46" y="0">0</text></g><g transform="translate(105.70,206.54) scale(0.975,1.045)"><text x="-36.15" y="0">2</text><text x="-21.69" y="0">.</text><text x="-14.46" y="0">5</text></g><g transform="translate(105.70,152.83) scale(0.975,1.045)"><text x="-36.15" y="0">3</text><text x="-21.69" y="0">.</text><text x="-14.46" y="0">0</text></g><g transform="translate(105.70,99.12) scale(0.975,1.045)"><text x="-36.15" y="0">3</text><text x="-21.69" y="0">.</text><text x="-14.46" y="0">5</text></g><g transform="translate(105.70,45.40) scale(0.975,1.045)"><text x="-36.15" y="0">4</text><text x="-21.69" y="0">.</text><text x="-14.46" y="0">0</text></g></g>
<g font-family="Liberation Sans" fill="#000"><circle cx="211" cy="309.0" r="9" fill="#FE44A2" shape-rendering="crispEdges"/><text transform="translate(250.1,318.9) scale(1,1.03)" font-size="28">Se<tspan font-weight="bold">I</tspan></text><circle cx="211" cy="344.4" r="9" fill="#E4AA2E" shape-rendering="crispEdges"/><text transform="translate(250.1,354.3) scale(1,1.03)" font-size="28">Se<tspan font-weight="bold">II</tspan></text><circle cx="211" cy="379.8" r="9" fill="#00C8C8" shape-rendering="crispEdges"/><text transform="translate(250.1,389.7) scale(1,1.03)" font-size="28">Se<tspan font-weight="bold">III</tspan></text><circle cx="211" cy="415.2" r="9" fill="#009CFF" shape-rendering="crispEdges"/><text transform="translate(250.1,425.1) scale(1,1.03)" font-size="28">Se<tspan font-weight="bold">IV</tspan></text></g>
<g stroke="#000" stroke-width="2.6" stroke-linecap="butt" stroke-linejoin="miter"><polyline points="293.4,130 267.9,117.3 267.9,80.4 298.9,61 330.4,79.4 330.4,115.5 305.4,129.3" fill="none"/><line x1="299.8" y1="69.5" x2="323.1" y2="83.4"/><line x1="275.3" y1="85.3" x2="275.3" y2="111.9"/><line x1="303.1" y1="124" x2="323.1" y2="111.9"/><polyline points="267.9,117.3 243,133.8 241.8,146.4" fill="none"/><line x1="299.9" y1="140.3" x2="299.9" y2="163.2"/><line x1="299.9" y1="178" x2="299.9" y2="200.2"/><polyline points="234.6,154.1 202.4,160.6 202.4,184.8" fill="none"/><line x1="241.6" y1="161" x2="242.2" y2="189.6"/><polyline points="242.2,202.5 242.2,211 268.9,224" fill="none"/><polyline points="228,196.2 202.5,184.5 170.5,201.3 170.5,238.3 203,257.2 234.3,236.9 234.3,206.3" fill="none"/><line x1="178.5" y1="205.6" x2="202.5" y2="192.5"/><line x1="227.7" y1="207.1" x2="227.7" y2="232.5"/><line x1="178.5" y1="234.7" x2="202.5" y2="248.5"/><polyline points="293.4,210.6 268.9,224 268.9,260.6 299.9,278.5 330.8,260.6 330.8,223.7 306.3,210" fill="none"/><line x1="276.5" y1="228.4" x2="296.7" y2="217"/><line x1="323.2" y1="228.4" x2="323.2" y2="255.6"/><line x1="276.5" y1="256.8" x2="299.9" y2="270.1"/><line x1="250.7" y1="152.5" x2="248.9" y2="158.7" stroke-width="1.8"/><line x1="253.9" y1="153.6" x2="252.2" y2="159.5" stroke-width="1.8"/><line x1="257.1" y1="154.7" x2="255.5" y2="160.2" stroke-width="1.8"/><line x1="260.3" y1="155.8" x2="258.9" y2="161.0" stroke-width="1.8"/><line x1="263.6" y1="157.0" x2="262.2" y2="161.8" stroke-width="1.8"/><line x1="266.8" y1="158.1" x2="265.5" y2="162.5" stroke-width="1.8"/><line x1="270.0" y1="159.2" x2="268.8" y2="163.3" stroke-width="1.8"/><line x1="273.2" y1="160.3" x2="272.2" y2="164.0" stroke-width="1.8"/><line x1="276.4" y1="161.4" x2="275.5" y2="164.8" stroke-width="1.8"/><line x1="279.7" y1="162.6" x2="278.8" y2="165.5" stroke-width="1.8"/><line x1="282.9" y1="163.7" x2="282.1" y2="166.3" stroke-width="1.8"/><line x1="286.1" y1="164.8" x2="285.4" y2="167.1" stroke-width="1.8"/><line x1="289.3" y1="165.9" x2="288.8" y2="167.8" stroke-width="1.8"/><line x1="292.5" y1="167.0" x2="292.1" y2="168.6" stroke-width="1.8"/><polygon points="239.4,193.3 242.1,199.4 293.1,174.8 292.1,172.6" fill="#000" stroke="none"/><line x1="312.1" y1="166.1" x2="313.1" y2="168.7" stroke-width="1.8"/><line x1="314.9" y1="164.8" x2="316.0" y2="167.6" stroke-width="1.8"/><line x1="317.7" y1="163.5" x2="319.0" y2="166.5" stroke-width="1.8"/><line x1="320.5" y1="162.2" x2="321.9" y2="165.4" stroke-width="1.8"/><line x1="323.3" y1="160.9" x2="324.8" y2="164.3" stroke-width="1.8"/><line x1="326.2" y1="159.6" x2="327.7" y2="163.3" stroke-width="1.8"/><line x1="329.0" y1="158.3" x2="330.6" y2="162.2" stroke-width="1.8"/><line x1="331.8" y1="157.0" x2="333.5" y2="161.1" stroke-width="1.8"/><line x1="334.6" y1="155.7" x2="336.4" y2="160.0" stroke-width="1.8"/><line x1="337.4" y1="154.4" x2="339.3" y2="158.9" stroke-width="1.8"/><line x1="340.2" y1="153.1" x2="342.2" y2="157.8" stroke-width="1.8"/><line x1="343.1" y1="151.8" x2="345.1" y2="156.7" stroke-width="1.8"/><line x1="345.9" y1="150.5" x2="348.0" y2="155.6" stroke-width="1.8"/><line x1="348.7" y1="149.2" x2="350.9" y2="154.6" stroke-width="1.8"/><line x1="351.5" y1="147.9" x2="353.8" y2="153.5" stroke-width="1.8"/><line x1="354.3" y1="146.6" x2="356.7" y2="152.4" stroke-width="1.8"/><line x1="357.1" y1="145.3" x2="359.7" y2="151.3" stroke-width="1.8"/><polygon points="313.7,171.8 312.9,173.6 357.6,194.5 360.2,188.3" fill="#000" stroke="none"/></g>
<g font-family="Liberation Serif" font-size="14.6" fill="#000"><text x="240.6" y="157.6" text-anchor="middle">N</text><text x="302.6" y="174.8" text-anchor="middle">Fe</text><text x="361.2" y="149.2">NCSe</text><text x="361.6" y="199.6">NCSe</text></g><g font-family="Liberation Sans" font-size="12.2" fill="#000" text-anchor="middle"><text x="299.4" y="137.9">N</text><text x="233.65" y="203">N</text><text x="299.4" y="210.4">N</text></g>
<g font-family="Liberation Sans" fill="#000"><g transform="translate(44,0) rotate(-90)"><text x="-409" y="7.5" font-size="19.8" >M</text><text x="-391.2" y="0" font-size="30.5" font-style="italic" stroke="#000" stroke-width="0.4">T</text><text x="-364.5" y="0" font-size="30.5" >/</text><text x="-348.4" y="0" font-size="30.5" >c</text><text x="-332.9" y="0" font-size="30.5" >m</text><text x="-308.2" y="-12" font-size="20.5" >3</text><text x="-288.6" y="0" font-size="30.5" >K</text><text x="-259.8" y="0" font-size="30.5" >m</text><text x="-235.7" y="0" font-size="30.5" >o</text><text x="-217.4" y="0" font-size="30.5" >l</text><text x="-170.6" y="0" font-size="30.5" >per Fe</text></g><g fill="none" stroke="#000" stroke-linecap="round"><path d="M30.3,407 L49.6,424.5" stroke-width="2.3"/><path d="M17.3,191.4 H31.9 M17.6,191.5 L21.6,195.4" stroke-width="1.8" stroke-linecap="butt"/><path d="M26.95,198.9 V204.1" stroke-width="1.7" stroke-linecap="butt"/><path d="M34.3,420.5 C31,419 30,416 32.5,414.8 C35,413.8 42,416.5 45.5,416.4 C48.5,416.3 50,414.5 49.2,412.5 C48.5,410.8 46.5,410.2 45.4,410.5" stroke-width="1.7"/></g><text transform="translate(369.2,569.5) scale(1,1.05)" font-size="36"><tspan font-style="italic">T</tspan><tspan dx="-1.3"> / K</tspan></text></g>
</svg></body></html>
